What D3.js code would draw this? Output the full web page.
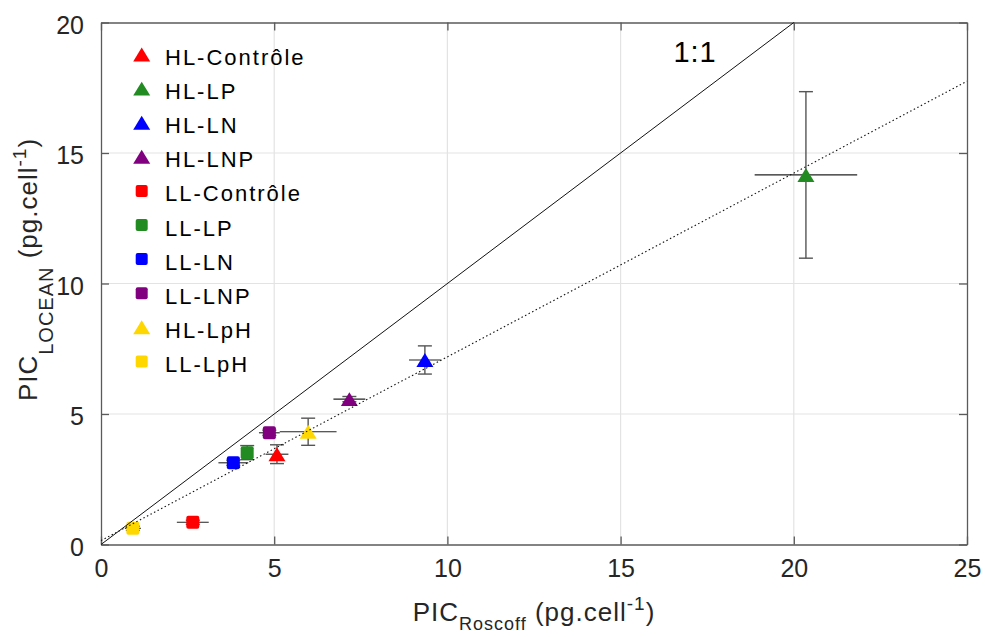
<!DOCTYPE html>
<html><head><meta charset="utf-8">
<script src="https://cdn.jsdelivr.net/npm/d3@7"></script>
<style>body{margin:0;background:#fff} svg{display:block} text{font-family:"Liberation Sans",Arial,Helvetica,sans-serif}</style>
</head><body>
<svg id="c" width="985" height="637"></svg>
<script>
// ---- data ----
const groups = ["HL-Contrôle","HL-LP","HL-LN","HL-LNP","LL-Contrôle","LL-LP","LL-LN","LL-LNP","HL-LpH","LL-LpH"];
const shapes = ["triangle","triangle","triangle","triangle","square","square","square","square","triangle","square"];
const colors = ["#ff0000","#228b22","#0000ff","#800080","#ff0000","#228b22","#0000ff","#800080","#ffd700","#ffd700"];
const picRoscoff    = [5.08, 20.35, 9.35, 7.17, 2.65, 4.22, 3.82, 4.86, 5.98, 0.92];
const picRoscoffErr = [0.33, 1.48, 0.46, 0.46, 0.46, 0.15, 0.43, 0.30, 0.82, 0.23];
const picLocean     = [3.46, 14.16, 7.07, 5.57, 0.85, 3.52, 3.13, 4.28, 4.32, 0.62];
const picLoceanErr  = [0.36, 3.19, 0.54, 0.10, 0.08, 0.27, 0.10, 0.10, 0.52, 0.08];
const xTicks = [0, 5, 10, 15, 20, 25];
const yTicks = [0, 5, 10, 15, 20];
const oneToOne = [[0, 0], [20, 20]];
const fitIntercept = 0.15, fitSlope = 0.704;
const fitRange = [0, 25];

// ---- layout ----
const svg = d3.select("#c");
const L = 101, R = 967, T = 22.5, B = 544.5;
const x = d3.scaleLinear().domain([0, 25]).range([L, R]);
const y = d3.scaleLinear().domain([0, 20]).range([B, T]);
const axisCol = "#5a5a5a", textCol = "#262626";

// grid
svg.append("g").selectAll("line").data(xTicks.slice(1, -1)).join("line")
  .attr("x1", d => x(d)).attr("x2", d => x(d)).attr("y1", T).attr("y2", B)
  .attr("stroke", "#e3e3e3").attr("stroke-width", 1.2);
svg.append("g").selectAll("line").data(yTicks.slice(1, -1)).join("line")
  .attr("y1", d => y(d)).attr("y2", d => y(d)).attr("x1", L).attr("x2", R)
  .attr("stroke", "#e3e3e3").attr("stroke-width", 1.2);

// axes (inward ticks, box)
function styleAxis(g) {
  g.selectAll("path.domain").attr("stroke", axisCol).attr("stroke-width", 1.3);
  g.selectAll(".tick line").attr("stroke", axisCol).attr("stroke-width", 1.3);
  g.selectAll(".tick text").attr("fill", textCol).style("font-size", "25px")
    .style("font-family", '"Liberation Sans",Arial,sans-serif');
}
const xb = svg.append("g").attr("transform", `translate(0,${B})`)
  .call(d3.axisBottom(x).tickValues(xTicks).tickSizeInner(-8).tickSizeOuter(0).tickPadding(15));
styleAxis(xb); xb.selectAll(".tick text").attr("dy", "0.71em");
const xt = svg.append("g").attr("transform", `translate(0,${T})`)
  .call(d3.axisTop(x).tickValues(xTicks).tickSizeInner(-8).tickSizeOuter(0).tickFormat(""));
styleAxis(xt);
const yl = svg.append("g").attr("transform", `translate(${L},0)`)
  .call(d3.axisLeft(y).tickValues(yTicks).tickSizeInner(-8).tickSizeOuter(0).tickPadding(17));
styleAxis(yl); yl.selectAll(".tick text").attr("dy", "0.42em");
const yr = svg.append("g").attr("transform", `translate(${R},0)`)
  .call(d3.axisRight(y).tickValues(yTicks).tickSizeInner(-8).tickSizeOuter(0).tickFormat(""));
styleAxis(yr);

// markers
const tri = { draw(ctx, size) { const w = Math.sqrt(size); ctx.moveTo(-w / 2, w * 0.41); ctx.lineTo(w / 2, w * 0.41); ctx.lineTo(0, -w * 0.41); ctx.closePath(); } };
const sq = { draw(ctx, size) { const w = Math.sqrt(size) / 2, r = 2; ctx.moveTo(-w + r, -w); ctx.lineTo(w - r, -w); ctx.arcTo(w, -w, w, -w + r, r); ctx.lineTo(w, w - r); ctx.arcTo(w, w, w - r, w, r); ctx.lineTo(-w + r, w); ctx.arcTo(-w, w, -w, w - r, r); ctx.lineTo(-w, -w + r); ctx.arcTo(-w, -w, -w + r, -w, r); ctx.closePath(); } };
const symTri = d3.symbol(tri, 17 * 17), symSq = d3.symbol(sq, 13 * 13);

const pts = groups.map((g, i) => ({ g, shape: shapes[i], color: colors[i], x: picRoscoff[i], xe: picRoscoffErr[i], y: picLocean[i], ye: picLoceanErr[i] }));

// error bars
const eb = svg.append("g");
pts.forEach(p => {
  eb.append("line").attr("x1", x(p.x - p.xe)).attr("x2", x(p.x + p.xe)).attr("y1", y(p.y)).attr("y2", y(p.y))
    .attr("stroke", "#222").attr("stroke-width", 1.1);
  eb.append("line").attr("x1", x(p.x)).attr("x2", x(p.x)).attr("y1", y(p.y - p.ye)).attr("y2", y(p.y + p.ye))
    .attr("stroke", "#555").attr("stroke-width", 1.4);
  [p.y - p.ye, p.y + p.ye].forEach(v => eb.append("line").attr("x1", x(p.x) - 7).attr("x2", x(p.x) + 7)
    .attr("y1", y(v)).attr("y2", y(v)).attr("stroke", "#555").attr("stroke-width", 1.4));
});
svg.append("g").selectAll("path").data(pts).join("path")
  .attr("transform", d => `translate(${x(d.x)},${y(d.y)})`)
  .attr("d", d => d.shape === "triangle" ? symTri() : symSq())
  .attr("fill", d => d.color);

// lines
svg.append("line").attr("x1", x(oneToOne[0][0])).attr("y1", y(oneToOne[0][1]))
  .attr("x2", x(oneToOne[1][0])).attr("y2", y(oneToOne[1][1]))
  .attr("stroke", "#111").attr("stroke-width", 1);
svg.append("line").attr("x1", x(fitRange[0])).attr("y1", y(fitIntercept + fitSlope * fitRange[0]))
  .attr("x2", x(fitRange[1])).attr("y2", y(fitIntercept + fitSlope * fitRange[1]))
  .attr("stroke", "#111").attr("stroke-width", 1.1).attr("stroke-dasharray", "1.5,2.5");

svg.append("text").attr("x", x(17.15)).attr("y", y(18.49)).attr("text-anchor", "middle")
  .style("font-size", "29px").style("letter-spacing", "1px").attr("fill", "#000").text("1:1");

// legend
const lg = svg.append("g");
groups.forEach((g, i) => {
  const cy = 54.5 + 34.1 * i;
  lg.append("path").attr("transform", `translate(141.7,${cy})`)
    .attr("d", shapes[i] === "triangle" ? symTri() : d3.symbol(sq, 12 * 12)()).attr("fill", colors[i]);
  lg.append("text").attr("x", 165).attr("y", cy + 10.5).style("font-size", "22px")
    .style("letter-spacing", "2px").attr("fill", "#000").text(g);
});

// axis labels
const xlab = svg.append("text").attr("x", (L + R) / 2).attr("y", 621).attr("text-anchor", "middle")
  .style("font-size", "26px").style("letter-spacing", "1px").attr("fill", textCol);
xlab.append("tspan").text("PIC");
xlab.append("tspan").attr("dy", 9).style("font-size", "18px").text("Roscoff");
xlab.append("tspan").attr("dy", -9).text(" (pg.cell");
xlab.append("tspan").attr("dy", -11).style("font-size", "19px").text("-1");
xlab.append("tspan").attr("dy", 11).text(")");

const ylab = svg.append("text").attr("transform", `translate(37,${(T + B) / 2 - 14}) rotate(-90)`)
  .attr("text-anchor", "middle").style("font-size", "26px").style("letter-spacing", "1px").attr("fill", textCol);
ylab.append("tspan").text("PIC");
ylab.append("tspan").attr("dy", 16).style("font-size", "20px").text("LOCEAN");
ylab.append("tspan").attr("dy", -16).text(" (pg.cell");
ylab.append("tspan").attr("dy", -11).style("font-size", "19px").text("-1");
ylab.append("tspan").attr("dy", 11).text(")");
</script>
</body></html>
